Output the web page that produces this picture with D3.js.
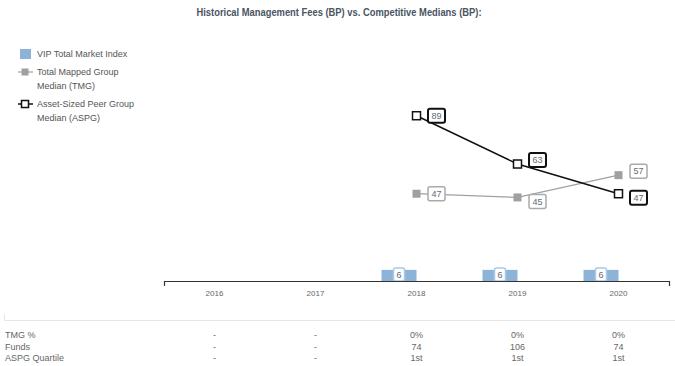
<!DOCTYPE html>
<html><head><meta charset="utf-8">
<script src="https://cdn.jsdelivr.net/npm/d3@7"></script>
<style>
html,body{margin:0;padding:0;background:#fff;}
svg{display:block;font-family:"Liberation Sans",Arial,sans-serif;}
</style></head>
<body><svg id="c" width="675" height="366"></svg>
<script>
const years = ["2016","2017","2018","2019","2020"];
const vipFees = [null,null,6,6,6];
const tmgMedian = [null,null,47,45,57];
const aspgMedian = [null,null,89,63,47];
const tmgPct = ["-","-","0%","0%","0%"];
const funds = ["-","-","74","106","74"];
const aspgQuartile = ["-","-","1st","1st","1st"];
const legendLabels = [["VIP Total Market Index"],["Total Mapped Group","Median (TMG)"],["Asset-Sized Peer Group","Median (ASPG)"]];
const tableRows = [["TMG %", tmgPct],["Funds", funds],["ASPG Quartile", aspgQuartile]];

const svg = d3.select("#c");
const barColor = "#8db4d8", tmgColor = "#a0a0a0", txtColor = "#666";

svg.append("text").attr("x",339).attr("y",16).attr("text-anchor","middle")
  .attr("font-size",10).attr("font-weight","bold").attr("fill","#4a5563")
  .attr("textLength",285).attr("lengthAdjust","spacingAndGlyphs")
  .text("Historical Management Fees (BP) vs. Competitive Medians (BP):");

const x = d3.scaleBand().domain(years).range([164,669]);
const y = d3.scaleLinear().domain([0,100]).range([281,95.3]);
const xs = d3.scaleBand().domain(["vip","peer"]).range([0,x.bandwidth()]).paddingOuter(0.443);
const cx = d => x(d) + x.bandwidth()/2;

// bars
const barData = years.map((yr,i)=>({yr, v: vipFees[i]})).filter(d=>d.v!=null);
const gb = svg.append("g");
gb.selectAll("rect").data(barData).join("rect")
  .attr("x",d=>x(d.yr)+xs("vip")).attr("width",xs.bandwidth())
  .attr("y",d=>y(d.v)).attr("height",d=>y(0)-y(d.v)).attr("fill",barColor);

// axis
const ax = svg.append("g").attr("transform","translate(0,281)")
  .call(d3.axisBottom(x).tickSizeInner(0).tickSizeOuter(5).tickPadding(9));
ax.select(".domain").attr("stroke","#333").attr("stroke-width",1.2);
ax.selectAll("text").attr("font-size",8).attr("fill",txtColor).attr("font-family","Liberation Sans, Arial, sans-serif");

// bar labels
gb.selectAll("g.bl").data(barData).join("g").attr("class","bl").each(function(d){
  const g = d3.select(this), bx = x(d.yr)+xs("vip")+xs.bandwidth()/2;
  g.append("rect").attr("x",bx-5.5).attr("y",268).attr("width",11).attr("height",13).attr("rx",2)
    .attr("fill","#fff").attr("stroke","#a9c9e6").attr("stroke-width",1.5);
  g.append("text").attr("x",bx).attr("y",277.5).attr("text-anchor","middle").attr("font-size",9)
    .attr("fill","#667").text(d.v);
});

// lines
const tmgData = years.map((yr,i)=>({yr,v:tmgMedian[i],o:aspgMedian[i]})).filter(d=>d.v!=null);
const aspgData = years.map((yr,i)=>({yr,v:aspgMedian[i],o:tmgMedian[i]})).filter(d=>d.v!=null);
const line = d3.line().x(d=>cx(d.yr)).y(d=>y(d.v));
svg.append("path").datum(tmgData).attr("d",line).attr("fill","none").attr("stroke",tmgColor).attr("stroke-width",1.2);
svg.append("path").datum(aspgData).attr("d",line).attr("fill","none").attr("stroke","#111").attr("stroke-width",1.5);

svg.append("g").selectAll("rect").data(tmgData).join("rect")
  .attr("x",d=>cx(d.yr)-4).attr("y",d=>y(d.v)-4).attr("width",8).attr("height",8).attr("fill",tmgColor);
svg.append("g").selectAll("rect").data(aspgData).join("rect")
  .attr("x",d=>cx(d.yr)-4).attr("y",d=>y(d.v)-4).attr("width",8).attr("height",8)
  .attr("fill","#fff").attr("stroke","#111").attr("stroke-width",1.5);

function labels(data, stroke, sw){
  const g = svg.append("g");
  data.forEach(d=>{
    let dy = 0;
    if (d.o!=null && Math.abs(d.v-d.o) < 25) dy = d.v > d.o ? -4 : 4;
    const lx = cx(d.yr)+20, ly = y(d.v)+dy;
    g.append("rect").attr("x",lx-8.5).attr("y",ly-7).attr("width",17).attr("height",14).attr("rx",2)
      .attr("fill","#fff").attr("stroke",stroke).attr("stroke-width",sw);
    g.append("text").attr("x",lx).attr("y",ly+3.3).attr("text-anchor","middle").attr("font-size",9)
      .attr("fill","#5f6b78").text(d.v);
  });
}
labels(tmgData, "#aaa", 1.5);
labels(aspgData, "#111", 2);

// legend
const lg = svg.append("g");
lg.append("rect").attr("x",20).attr("y",49).attr("width",11).attr("height",10).attr("fill",barColor);
lg.append("line").attr("x1",18).attr("x2",33).attr("y1",72).attr("y2",72).attr("stroke",tmgColor).attr("stroke-width",1.2);
lg.append("rect").attr("x",21.5).attr("y",68.5).attr("width",7).attr("height",7).attr("fill",tmgColor);
lg.append("line").attr("x1",18).attr("x2",33).attr("y1",104).attr("y2",104).attr("stroke","#111").attr("stroke-width",1.5);
lg.append("rect").attr("x",21.5).attr("y",100.5).attr("width",7).attr("height",7).attr("fill","#fff").attr("stroke","#111").attr("stroke-width",1.5);
const ly0 = [57, 75, 107];
legendLabels.forEach((ls,i)=>{
  ls.forEach((t,j)=>{
    lg.append("text").attr("x",37).attr("y",ly0[i]+j*14).attr("font-size",9).attr("fill","#555").text(t);
  });
});

// table
svg.append("path").attr("d","M4.5,314V320.5H675").attr("fill","none").attr("stroke","#e6e6e6").attr("stroke-width",1);
const rowY = [338, 349.5, 361];
tableRows.forEach(([lab,vals],r)=>{
  svg.append("text").attr("x",5).attr("y",rowY[r]).attr("font-size",9).attr("fill",txtColor).text(lab);
  svg.append("g").selectAll("text").data(vals).join("text")
    .attr("x",(d,i)=>cx(years[i])).attr("y",rowY[r]).attr("text-anchor","middle")
    .attr("font-size",9).attr("fill",txtColor).text(d=>d);
});
</script></body></html>
